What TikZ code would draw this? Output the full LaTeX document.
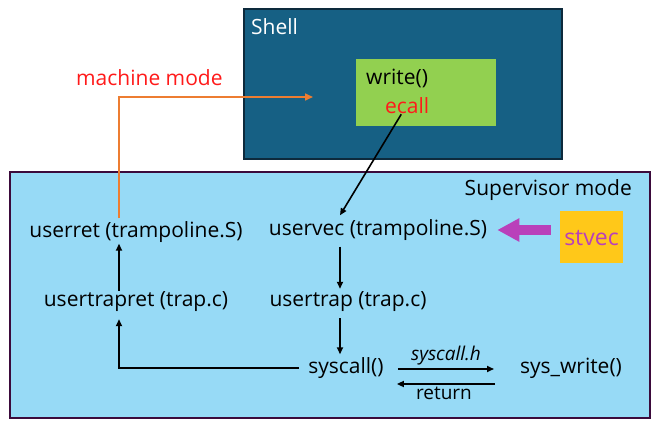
\documentclass[tikz,border=0pt]{standalone}
\usepackage{fontspec}
\setmainfont{Open Sans}
\usetikzlibrary{arrows.meta,calc}
\definecolor{shellfill}{HTML}{166084}
\definecolor{shellborder}{HTML}{0D2A3C}
\definecolor{supfill}{HTML}{97DAF6}
\definecolor{supborder}{HTML}{3B0A3B}
\definecolor{greenfill}{HTML}{92D050}
\definecolor{orangeline}{HTML}{ED7D31}
\definecolor{stvecfill}{HTML}{FFC819}
\definecolor{stvecpurple}{HTML}{B940BA}
\definecolor{redtext}{HTML}{FF1A1A}
\begin{document}
\begin{tikzpicture}[x=1pt,y=-1pt,
  lbl/.style={font=\fontsize{21}{24}\selectfont, inner sep=2pt},
  small/.style={font=\fontsize{19}{22}\selectfont, inner sep=2pt},
  flow/.style={line width=1.6pt,-{Triangle[length=7pt,width=6pt]}},
]
\useasboundingbox (0,0) rectangle (656,425);
% boxes
\node[draw=shellborder, fill=shellfill, line width=2pt, minimum width=318pt, minimum height=150pt, anchor=north west, inner sep=0pt] (shell) at (243,8) {};
\node[anchor=west, text=white, font=\fontsize{21}{24}\selectfont, inner sep=0pt] (shelltxt) at (251,27) {Shell};
\node[fill=greenfill, minimum width=140pt, minimum height=67pt, anchor=north west, inner sep=0pt] (green) at (356,59) {};
\node[lbl, anchor=west] (write) at (364,78) {write()};
\node[lbl, anchor=west, text=redtext] (ecall) at (383,106) {ecall};
\node[draw=supborder, fill=supfill, line width=2pt, minimum width=640pt, minimum height=246pt, anchor=north west, inner sep=0pt] (sup) at (9,171) {};
\node[lbl, anchor=east] (suptxt) at (634,190) {Supervisor mode};
\node[lbl, text=redtext, anchor=west] (mm) at (74,78) {machine mode};
% flow nodes
\node[lbl] (userret) at (136,232) {userret (trampoline.S)};
\node[lbl] (uservec) at (378,230) {uservec (trampoline.S)};
\node[lbl] (usertrapret) at (136,302) {usertrapret (trap.c)};
\node[lbl] (usertrap) at (348,302) {usertrap (trap.c)};
\node[lbl] (syscall) at (346,368) {syscall()};
\node[lbl] (syswrite) at (571,368) {sys\_write()};
\node[fill=stvecfill, minimum width=63pt, minimum height=52pt, inner sep=0pt] (stvecbox) at (591.5,237) {};
\node[lbl, font=\fontsize{23}{26}\selectfont, text=stvecpurple] (stvec) at (591.5,238) {stvec};
\node[small, font=\fontsize{19}{22}\selectfont\itshape] (sch) at (446,356) {syscall.h};
\node[small] (ret) at (444,393) {return};
% columns
\coordinate (colR) at (340,0);
\coordinate (colL) at (119,0);
\coordinate (mmend) at (313,97);
\coordinate (rgtA) at (398,369);
\coordinate (rgtB) at (494,369);
\coordinate (lftA) at (495,384);
\coordinate (lftB) at (397,384);
% connectors
\draw[flow] ([xshift=-6pt,yshift=2pt]ecall.south) -- ([yshift=2pt]uservec.north -| colR);
\draw[flow] ([yshift=-4pt]uservec.south -| colR) -- ([yshift=1pt]usertrap.north -| colR);
\draw[flow] ([yshift=-4pt]usertrap.south -| colR) -- ([yshift=1pt]syscall.north -| colR);
\draw[flow] ([xshift=-7pt]syscall.west) -| ([yshift=-5pt]usertrapret.south -| colL);
\draw[flow] ([yshift=-1pt]usertrapret.north -| colL) -- ([yshift=1pt]userret.south -| colL);
\draw[flow] (syscall.east |- rgtA) ++(12pt,0) -- (rgtB);
\draw[flow] (lftA) -- ([xshift=11pt]syscall.east |- lftB);
\draw[orangeline, line width=1.6pt, -{Triangle[length=8pt,width=7pt]}] ([yshift=1pt]userret.north -| colL) |- (mmend);
\draw[stvecpurple, line width=10pt, -{Triangle[length=22pt,width=22pt]}] ([xshift=-9pt]uservec.east -| stvecbox.west) -- ([xshift=8pt]uservec.east);
\end{tikzpicture}
\end{document}
